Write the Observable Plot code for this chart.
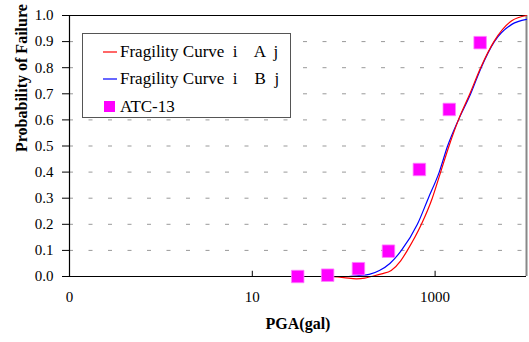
<!DOCTYPE html>
<html>
<head>
<meta charset="utf-8">
<script src="https://cdn.jsdelivr.net/npm/d3@7"></script>
<script src="https://cdn.jsdelivr.net/npm/@observablehq/plot@0.6"></script>
<style>
  html, body { margin: 0; padding: 0; background: #fff; }
  #wrap { position: relative; width: 529px; height: 342px; font-family: 'Liberation Serif', 'Times New Roman', serif; }
  #legend { position: absolute; left: 82px; top: 33px; width: 207px; height: 83px; border: 1.5px solid #555; background: #fff; box-sizing: content-box; }
  .row { position: absolute; left: 0; height: 20px; display: flex; align-items: center; font-size: 17px; color: #000; white-space: pre; }
</style>
</head>
<body>
<div id="wrap"></div>
<script>
// Fragility curve A (red): PGA (gal) and probability of failure
const curveA_pga = [0.55, 60, 100, 138, 170, 200, 260, 331, 420, 497, 708, 931, 1150, 1420, 1800, 2400, 3150, 4400, 6900, 10000];
const curveA_p   = [0, 0, -0.004, -0.009, -0.006, 0, 0.01, 0.023, 0.06, 0.10, 0.20, 0.30, 0.40, 0.50, 0.60, 0.70, 0.80, 0.90, 0.98, 1.0];
// Fragility curve B (blue)
const curveB_pga = [0.55, 60, 107, 150, 190, 246, 320, 428, 640, 843, 1110, 1370, 1800, 2450, 3190, 4450, 6900, 10000];
const curveB_p   = [0, 0, 0, 0.004, 0.008, 0.023, 0.05, 0.10, 0.20, 0.30, 0.40, 0.50, 0.60, 0.70, 0.80, 0.90, 0.966, 0.985];
// ATC-13 points
const atc_pga = [31.4, 66.7, 145, 309, 673, 1429, 3110];
const atc_p   = [0.0, 0.005, 0.03, 0.097, 0.41, 0.64, 0.896];
// Axis ticks
const xTicks = [0.1, 10, 1000];
const xTickLabels = ["0", "10", "1000"];
const yTicks = [0, 0.1, 0.2, 0.3, 0.4, 0.5, 0.6, 0.7, 0.8, 0.9, 1.0];
const gridValues = [0.1, 0.2, 0.3, 0.4, 0.5, 0.6, 0.7, 0.8, 0.9];
const legendLabels = ["Fragility Curve  i    A  j", "Fragility Curve  i    B  j", "ATC-13"];
const colors = {A: "#ff0000", B: "#0000ff", atc: "#ff00ff"};

const FONT = "'Liberation Serif', 'Times New Roman', serif";

function draw() {
  const dataA = curveA_pga.map((x, i) => ({x, y: curveA_p[i]}));
  const dataB = curveB_pga.map((x, i) => ({x, y: curveB_p[i]}));
  const dataATC = atc_pga.map((x, i) => ({x, y: atc_p[i]}));

  const chart = Plot.plot({
    width: 529,
    height: 342,
    marginLeft: 69,
    marginRight: 3,
    marginTop: 15,
    marginBottom: 66,
    style: {fontFamily: FONT, fontSize: "15px", background: "#fff", color: "#000"},
    x: {type: "log", domain: [0.1, 10000]},
    y: {domain: [0, 1]},
    marks: [
      Plot.ruleY(gridValues, {y: d => d, stroke: "#999", strokeWidth: 1, strokeDasharray: "4,15.5"}),
      Plot.axisX(xTicks, {tickSize: 0, tickPadding: 15, tickFormat: d => xTickLabels[xTicks.indexOf(d)], label: null, fontSize: 15, fontFamily: FONT}),
      Plot.ruleX(xTicks.slice(1), {x: d => d, y1: 0, y2: 0.02, stroke: "#000", strokeWidth: 1}),
      Plot.axisY(yTicks, {tickSize: 7, tickPadding: 9, tickFormat: d3.format(".1f"), label: null, fontSize: 15, fontFamily: FONT}),
      Plot.ruleY([1], {stroke: "#000", strokeWidth: 1.2}),
      Plot.ruleX([10000], {stroke: "#888", strokeWidth: 2}),
      Plot.ruleX([0.1], {stroke: "#000", strokeWidth: 1.2}),
      Plot.line(dataB, {x: "x", y: "y", stroke: colors.B, strokeWidth: 1.2, curve: "monotone-x"}),
      Plot.line(dataA, {x: "x", y: "y", stroke: colors.A, strokeWidth: 1.2, curve: "monotone-x"}),
      Plot.ruleY([0], {stroke: "#000", strokeWidth: 1.2}),
      Plot.dot(dataATC, {x: "x", y: "y", symbol: "square", r: 7.05, fill: colors.atc, stroke: "#ff80ff", strokeWidth: 0.8}),
      Plot.text(["Probability of Failure"], {frameAnchor: "left", dx: -48, dy: 6, rotate: -90, fontWeight: "bold", fontSize: 16, fontFamily: FONT}),
      Plot.text(["PGA(gal)"], {frameAnchor: "bottom", dy: 52, fontWeight: "bold", fontSize: 16, fontFamily: FONT})
    ]
  });

  const wrap = document.getElementById("wrap");
  wrap.innerHTML = "";
  wrap.appendChild(chart);

  const legend = document.createElement("div");
  legend.id = "legend";
  legend.style.fontFamily = FONT;
  const rowTops = [8, 35, 63];
  legendLabels.forEach((lab, i) => {
    const row = document.createElement("div");
    row.className = "row";
    row.style.top = rowTops[i] + "px";
    row.style.fontFamily = FONT;
    let sw;
    if (i < 2) {
      sw = `<svg width="36" height="20"><line x1="20" x2="34" y1="10" y2="10" stroke="${i === 0 ? colors.A : colors.B}" stroke-width="1.2"/></svg>`;
    } else {
      sw = `<svg width="36" height="20"><rect x="21" y="4" width="11" height="11" fill="${colors.atc}"/></svg>`;
    }
    row.innerHTML = sw + `<span style="margin-left:1px">${lab}</span>`;
    legend.appendChild(row);
  });
  wrap.appendChild(legend);
}

draw();
if (document.fonts && document.fonts.load) {
  Promise.all([
    document.fonts.load("15px 'Liberation Serif'"),
    document.fonts.load("bold 16px 'Liberation Serif'")
  ]).then(draw, () => {});
}
</script>
</body>
</html>
